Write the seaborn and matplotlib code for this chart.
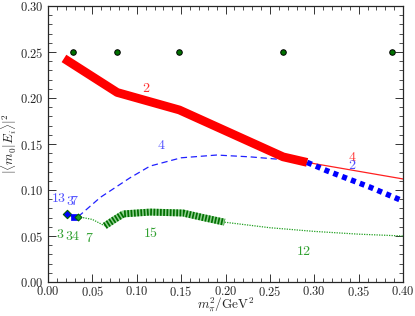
import matplotlib
matplotlib.use("Agg")
import matplotlib.pyplot as plt
import seaborn as sns
import pandas as pd
import numpy as np

# ---- data ----
dots_x = [0.0282, 0.0777, 0.1476, 0.265, 0.3876]
dots_y = [0.25, 0.25, 0.25, 0.25, 0.25]

red_thick_x = [0.018, 0.078, 0.148, 0.265, 0.292]
red_thick_y = [0.243, 0.206, 0.187, 0.136, 0.130]
red_thin_x = [0.292, 0.40]
red_thin_y = [0.130, 0.112]

blue_dash_x = [0.034, 0.059, 0.092, 0.115, 0.150, 0.190, 0.228, 0.265, 0.292]
blue_dash_y = [0.071, 0.092, 0.113, 0.126, 0.135, 0.138, 0.136, 0.133, 0.130]
blue_dot_x = [0.292, 0.314, 0.363, 0.40]
blue_dot_y = [0.130, 0.121, 0.103, 0.088]
blue_short_x = [0.021, 0.029]
blue_short_y = [0.074, 0.071]

green_thin1_x = [0.034, 0.050, 0.064]
green_thin1_y = [0.071, 0.068, 0.061]
green_thick_x = [0.064, 0.075, 0.085, 0.115, 0.152, 0.175, 0.199]
green_thick_y = [0.061, 0.068, 0.074, 0.076, 0.075, 0.070, 0.065]
green_thin2_x = [0.199, 0.25, 0.30, 0.35, 0.40]
green_thin2_y = [0.065, 0.059, 0.055, 0.052, 0.050]

labels = [
    ("2", 0.111, 0.211, "#ff3030"),
    ("4", 0.343, 0.136, "#ff3030"),
    ("4", 0.128, 0.149, "#5050ff"),
    ("2", 0.343, 0.127, "#5050ff"),
    ("13", 0.0125, 0.091, "#5050ff"),
    ("3", 0.025, 0.088, "#5050ff"),
    ("7", 0.030, 0.088, "#5050ff"),
    ("3", 0.0135, 0.052, "#30a030"),
    ("3", 0.0240, 0.050, "#30a030"),
    ("4", 0.0310, 0.050, "#30a030"),
    ("7", 0.047, 0.048, "#30a030"),
    ("15", 0.116, 0.053, "#30a030"),
    ("12", 0.288, 0.034, "#30a030"),
]

plt.rcParams['mathtext.fontset'] = 'cm'
sns.set_style("ticks")
plt.rcParams['font.family'] = ['DejaVu Serif']

fig = plt.figure(figsize=(4.15, 3.16), dpi=100)
ax = fig.add_axes([48/415, 1-282/316, 355/415, 276/316])

def line(x, y, **kw):
    sns.lineplot(x=x, y=y, ax=ax, sort=False, estimator=None, legend=False, **kw)

line(blue_dash_x, blue_dash_y, color="#2020ff", lw=0.9, dashes=(5, 3))
line(red_thin_x, red_thin_y, color="#ff2020", lw=0.9)
line(red_thick_x, red_thick_y, color="#ff0000", lw=6.3, solid_capstyle="butt")
line(blue_dot_x, blue_dot_y, color="#0000ff", lw=4, dashes=(0.9, 0.8))
line(green_thin1_x, green_thin1_y, color="#20a020", lw=0.9, dashes=(1, 1))
line(green_thin2_x, green_thin2_y, color="#20a020", lw=0.9, dashes=(1, 1))
line(green_thick_x, green_thick_y, color="#90d090", lw=5, solid_capstyle="butt")
line(green_thick_x, green_thick_y, color="#007000", lw=5, dashes=(0.25, 0.22))
line(blue_short_x, blue_short_y, color="#0000ff", lw=1.2)

sns.scatterplot(x=[blue_short_x[0]], y=[blue_short_y[0]], ax=ax, marker="D", s=18,
                color="#0000ff", edgecolor="#006000", linewidth=0.8, zorder=5)
sns.scatterplot(x=[blue_short_x[1]], y=[blue_short_y[1]], ax=ax, marker="s", s=22,
                color="#0000ff", edgecolor="#0000ff", linewidth=0.5, zorder=5)
sns.scatterplot(x=[green_thin1_x[0]], y=[green_thin1_y[0]], ax=ax, marker="D", s=12,
                color="#20a020", edgecolor="#006000", linewidth=0.8, zorder=5)
sns.scatterplot(x=dots_x, y=dots_y, ax=ax, s=16, color="#007000",
                edgecolor="black", linewidth=0.7, zorder=6, clip_on=False)

for t, x, y, c in labels:
    ax.text(x, y, f"${t}$", color=c, fontsize=10, ha="center", va="center")

ax.set_xlim(0, 0.40)
ax.set_ylim(0, 0.30)
xt = np.arange(0, 0.401, 0.05)
yt = np.arange(0, 0.301, 0.05)
ax.set_xticks(xt)
ax.set_yticks(yt)
ax.set_xticklabels([f"${v:.2f}$" for v in xt], fontsize=9)
ax.set_yticklabels([f"${v:.2f}$" for v in yt], fontsize=9)
ax.set_xticks(np.arange(0, 0.401, 0.01), minor=True)
ax.set_yticks(np.arange(0, 0.301, 0.01), minor=True)
ax.tick_params(which="both", direction="in", top=True, right=True, color="#333333")
ax.tick_params(which="major", length=6, width=0.7)
ax.tick_params(axis="x", which="major", pad=2)
ax.tick_params(axis="y", which="major", pad=3)
ax.tick_params(which="minor", length=3, width=0.6)
for s in ax.spines.values():
    s.set_linewidth(0.9)
ax.set_xlabel(r"$m_\pi^2/\mathrm{GeV}^2$", fontsize=9.5, labelpad=-2)
ax.set_ylabel(r"$|\langle m_0|E_i\rangle|^2$", fontsize=9.5, labelpad=0.5)

fig.savefig("out.png", dpi=100)
